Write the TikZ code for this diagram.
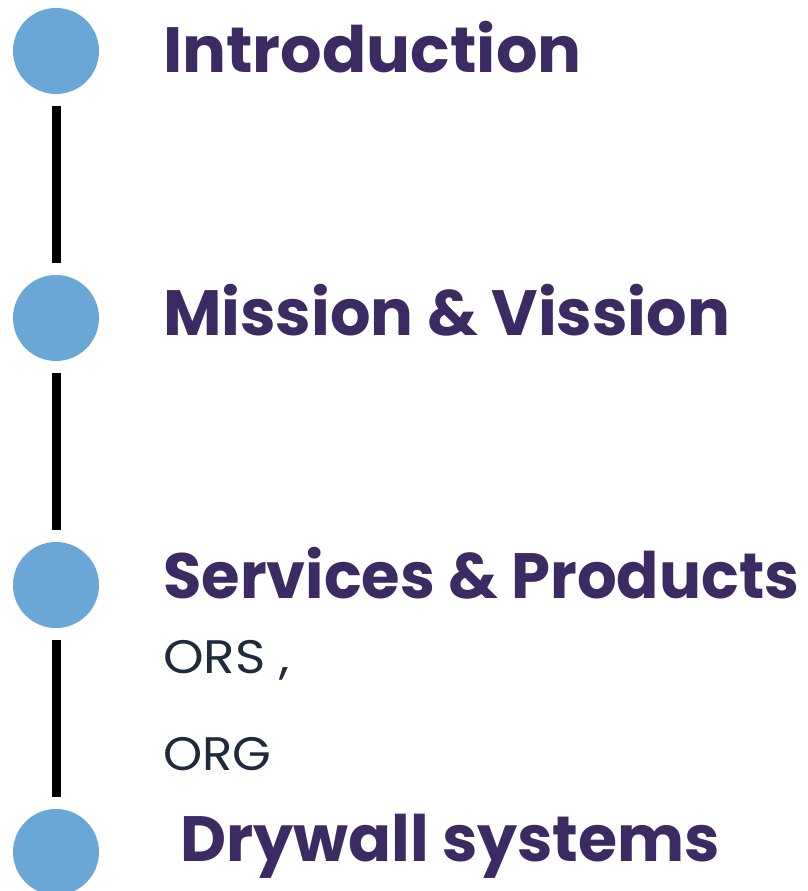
\documentclass[tikz,border=0pt]{standalone}
\usepackage{fontspec}
\setmainfont{Poppins}
\definecolor{dotblue}{HTML}{6AA6D6}
\definecolor{titlepurple}{HTML}{3B2B62}
\definecolor{subtext}{HTML}{1E2B3A}
\tikzset{
  dot/.style={circle, fill=dotblue, minimum size=86pt, inner sep=0pt},
  link/.style={line width=9pt, black, shorten <=12pt, shorten >=12pt},
  title/.style={anchor=base west, inner sep=0pt, text=titlepurple, font=\fontsize{64}{70}\selectfont\bfseries},
  sub/.style={anchor=base west, inner sep=0pt, text=subtext, font=\fontsize{47}{50}\selectfont}
}
\begin{document}
\begin{tikzpicture}[x=1pt,y=-1pt]
\useasboundingbox (0,0) rectangle (808,891);
\node[dot] (c1) at (56,51) {};
\node[dot] (c2) at (56,318) {};
\node[dot] (c3) at (56,585) {};
\node[dot] (c4) at (56,852) {};
\draw[link] (c1) -- (c2);
\draw[link] (c2) -- (c3);
\draw[link] (c3) -- (c4);
\node[title] (t1) at (163,73) {\scalebox{1.02}[1]{Introduction}};
\node[title] (t2) at (163,335) {\scalebox{0.995}[1]{Mission \& Vission}};
\node[title] (t3) at (163,598) {\scalebox{0.975}[1]{Services \& Products}};
\node[title] (t4) at (180,861) {\scalebox{0.99}[1]{Drywall systems}};
\node[sub] (s1) at (163,673) {\scalebox{1.1}[1]{ORS ,}};
\node[sub] (s2) at (163,770) {\scalebox{1.06}[1]{ORG}};
\end{tikzpicture}
\end{document}
